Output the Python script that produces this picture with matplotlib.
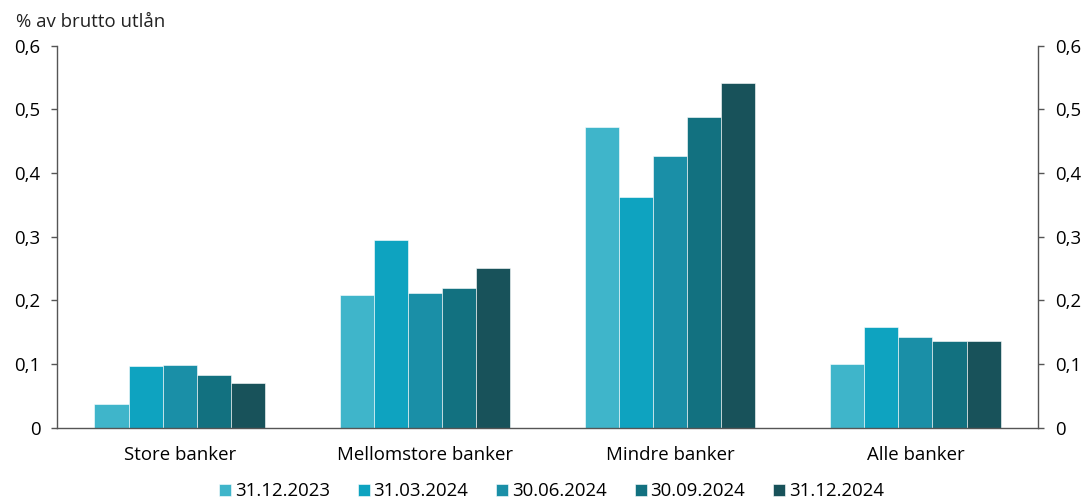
import matplotlib.pyplot as plt
import numpy as np

plt.rcParams['font.family'] = ['Open Sans', 'DejaVu Sans']

categories = ["Store banker", "Mellomstore banker", "Mindre banker", "Alle banker"]
dates = ["31.12.2023", "31.03.2024", "30.06.2024", "30.09.2024", "31.12.2024"]
v_2023q4 = [0.037, 0.208, 0.472, 0.100]
v_2024q1 = [0.097, 0.295, 0.363, 0.158]
v_2024q2 = [0.099, 0.211, 0.427, 0.143]
v_2024q3 = [0.083, 0.219, 0.488, 0.136]
v_2024q4 = [0.070, 0.251, 0.542, 0.136]
series = [v_2023q4, v_2024q1, v_2024q2, v_2024q3, v_2024q4]
colors = ['#3fb5ca', '#0ea3c0', '#1a8fa7', '#127180', '#18525a']
yticks = [0, 0.1, 0.2, 0.3, 0.4, 0.5, 0.6]
ytick_labels = ['0', '0,1', '0,2', '0,3', '0,4', '0,5', '0,6']

fs = 13.4

fig = plt.figure(figsize=(10.86, 4.99), dpi=100)
ax = fig.add_axes([0.0525, 0.143, 0.9033, 0.7654])

x = np.arange(len(categories))
w = 0.139
for i, (vals, col, lab) in enumerate(zip(series, colors, dates)):
    ax.bar(x + (i - 2) * w, vals, w, color=col, label=lab,
           edgecolor='white', linewidth=0.4)

ax.set_xlim(-0.5, 3.5)
ax.set_ylim(0, 0.6)
ax.set_xticks(x)
ax.set_xticklabels(categories, fontsize=fs)
ax.tick_params(axis='x', length=0, pad=13)
ax.set_yticks(yticks)
ax.set_yticklabels(ytick_labels, fontsize=fs)
ax.tick_params(axis='y', length=4, color='#555555', width=1, pad=8,
               labelright=True, right=True)

ax.spines['top'].set_visible(False)
for s in ['left', 'right', 'bottom']:
    ax.spines[s].set_color('#555555')
    ax.spines[s].set_linewidth(1)

fig.text(0.015, 0.945, '% av brutto utlån', fontsize=fs, color='#222222')

# legend under the axes
ax.legend(loc='lower center', bbox_to_anchor=(0.504, -0.215), ncol=5, frameon=False,
          fontsize=fs, handlelength=0.65, handleheight=0.65, handletextpad=0.2,
          columnspacing=1.5, borderpad=0)

fig.savefig('out.png', dpi=100)
